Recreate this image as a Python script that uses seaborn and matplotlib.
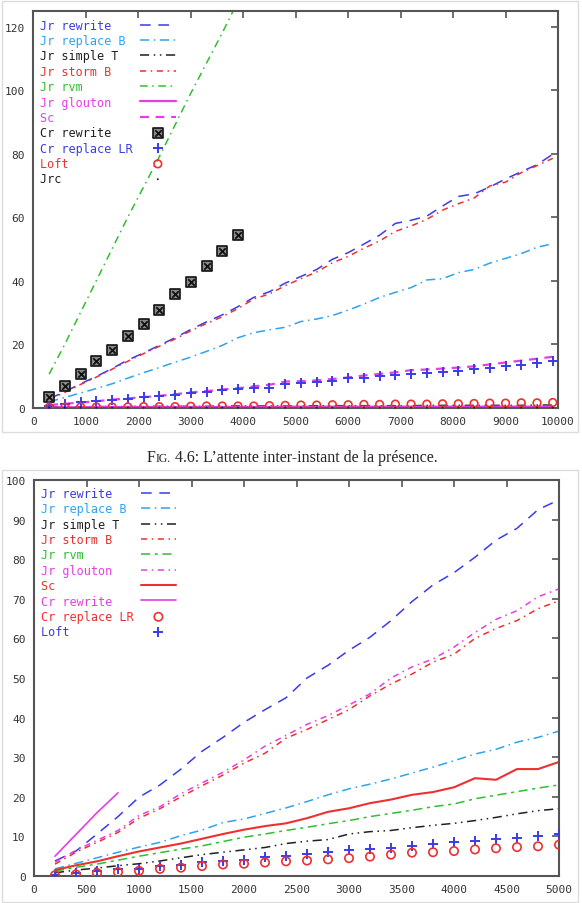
import matplotlib
matplotlib.use("Agg")
import matplotlib.pyplot as plt
import seaborn as sns
from matplotlib.patches import Rectangle
from matplotlib.offsetbox import TextArea, HPacker, AnchoredOffsetbox
from matplotlib.legend_handler import HandlerTuple

sns.set_style("white")
plt.rcParams["font.family"] = ["DejaVu Sans Mono"]

# ---- top chart (x up to 10000) ----
x_top = [300, 600, 900, 1200, 1500, 1800, 2100, 2400, 2700, 3000, 3300, 3600, 3900,
         4200, 4500, 4800, 5100, 5400, 5700, 6000, 6300, 6600, 6900, 7200, 7500, 7800,
         8100, 8400, 8700, 9000, 9300, 9600, 9900]
x_top_short = [300, 600, 900, 1200, 1500, 1800, 2100, 2400, 2700, 3000, 3300, 3600, 3900]

jr_rewrite_t = [2.8, 5.0, 7.5, 9.8, 12.3, 15.0, 17.2, 19.6, 22.0, 24.6, 27.0, 29.2, 31.8,
                34.7, 36.5, 39.2, 41.3, 43.5, 46.7, 48.8, 51.5, 54.3, 58.0, 59.0, 60.3, 63.5,
                66.5, 67.3, 69.5, 72.0, 74.3, 76.5, 79.8]
jr_replace_t = [1.8, 3.2, 4.6, 6.0, 7.5, 9.3, 11.0, 12.6, 14.3, 15.9, 17.7, 19.6, 22.0,
                23.6, 24.5, 25.3, 27.1, 27.9, 29.0, 30.7, 32.6, 34.7, 36.3, 37.8, 40.2, 40.6,
                42.5, 43.5, 45.5, 47.0, 48.5, 50.5, 51.6]
jr_simple_t = [0.2, 0.2, 0.3, 0.3, 0.3, 0.3, 0.4, 0.4, 0.4, 0.4, 0.4, 0.5, 0.5,
               0.5, 0.5, 0.5, 0.5, 0.6, 0.6, 0.6, 0.6, 0.6, 0.6, 0.6, 0.7, 0.7,
               0.7, 0.7, 0.7, 0.7, 0.7, 0.8, 0.8]
jr_storm_t = [2.5, 4.8, 7.3, 9.6, 12.1, 14.6, 17.0, 19.3, 21.6, 24.2, 26.5, 28.6, 31.2,
              34.2, 35.8, 38.4, 40.6, 42.7, 45.6, 47.6, 50.2, 52.5, 55.5, 57.2, 59.3, 62.2,
              64.2, 66.0, 69.8, 71.0, 74.0, 76.2, 78.5]
jr_rvm_t = [10.5, 20.0, 30.0, 40.0, 50.0, 60.0, 69.5, 79.0, 89.0, 99.0, 108.5, 118.0, 128.0]
jr_glouton_t = [0.1, 0.1, 0.1, 0.2, 0.2, 0.2, 0.2, 0.2, 0.2, 0.2, 0.2, 0.2, 0.2,
                0.2, 0.2, 0.3, 0.3, 0.3, 0.3, 0.3, 0.3, 0.3, 0.3, 0.3, 0.3, 0.3,
                0.3, 0.3, 0.3, 0.3, 0.3, 0.3, 0.3]
sc_t = [0.8, 1.2, 1.6, 2.0, 2.5, 2.9, 3.3, 3.7, 4.2, 4.8, 5.2, 5.7, 6.1,
        6.7, 7.2, 8.2, 8.3, 8.6, 9.0, 9.5, 10.1, 10.6, 11.1, 11.8, 12.0, 12.3,
        12.6, 13.0, 13.6, 14.2, 14.8, 15.4, 16.0]
cr_rewrite_t = [3.4, 6.9, 10.5, 14.6, 18.2, 22.4, 26.4, 30.7, 35.7, 39.7, 44.5, 49.3, 54.5]
cr_replace_t = [0.5, 1.0, 1.7, 2.1, 2.4, 2.7, 3.2, 3.6, 4.0, 4.5, 5.0, 5.6, 5.8,
                6.3, 6.3, 7.3, 7.6, 8.1, 8.5, 9.2, 9.4, 9.9, 10.4, 10.7, 10.9, 11.3,
                11.5, 12.3, 12.6, 13.0, 13.3, 14.1, 14.8]
loft_t = [0.1, 0.1, 0.2, 0.2, 0.2, 0.2, 0.3, 0.3, 0.3, 0.4, 0.5, 0.5, 0.5,
          0.5, 0.6, 0.7, 0.8, 0.8, 0.9, 0.9, 1.0, 1.0, 1.1, 1.1, 1.1, 1.2,
          1.2, 1.3, 1.4, 1.4, 1.5, 1.5, 1.6]
jrc_t = [0.0, 0.0, 0.0, 0.0, 0.0, 0.0, 0.0, 0.0, 0.0, 0.0, 0.0, 0.0, 0.0,
         0.0, 0.0, 0.0, 0.0, 0.0, 0.0, 0.0, 0.0, 0.0, 0.0, 0.0, 0.0, 0.0,
         0.0, 0.0, 0.0, 0.0, 0.0, 0.0, 0.0]

# ---- bottom chart (x up to 5000) ----
x_bot = [200, 400, 600, 800, 1000, 1200, 1400, 1600, 1800, 2000, 2200, 2400, 2600,
         2800, 3000, 3200, 3400, 3600, 3800, 4000, 4200, 4400, 4600, 4800, 5000]
x_bot_short = [200, 400, 600, 800]

jr_rewrite_b = [3.8, 6.3, 10.6, 15.0, 19.9, 23.0, 27.0, 31.5, 35.0, 38.8, 42.0, 45.0, 50.0,
                53.2, 57.0, 60.3, 64.5, 69.3, 73.5, 76.6, 80.5, 84.8, 87.8, 92.5, 95.0]
jr_replace_b = [1.8, 3.2, 4.6, 6.0, 7.3, 8.5, 10.2, 11.6, 13.5, 14.4, 15.8, 17.2, 18.8,
                20.5, 22.0, 23.2, 24.5, 26.0, 27.5, 29.1, 30.8, 32.0, 33.8, 35.0, 36.6]
jr_simple_b = [0.8, 1.5, 2.0, 2.6, 3.1, 3.8, 4.6, 5.4, 6.0, 6.6, 7.2, 8.2, 8.8,
               9.2, 10.6, 11.2, 11.5, 12.2, 12.8, 13.3, 14.0, 14.8, 15.7, 16.5, 17.0]
jr_storm_b = [3.0, 6.0, 8.5, 11.0, 14.6, 17.0, 20.0, 22.8, 25.5, 28.5, 31.0, 34.8, 37.0,
              39.5, 42.0, 45.5, 48.5, 51.0, 54.0, 56.0, 60.0, 62.5, 64.5, 67.5, 69.5]
jr_rvm_b = [1.2, 2.2, 3.0, 4.0, 5.0, 5.9, 6.8, 7.6, 8.7, 9.8, 10.6, 11.5, 12.3,
            13.2, 14.0, 15.0, 15.8, 16.6, 17.5, 18.2, 19.5, 20.4, 21.3, 22.2, 23.0]
jr_glouton_b = [3.5, 6.5, 9.0, 11.5, 15.3, 17.5, 20.8, 23.5, 26.2, 29.3, 32.8, 35.5, 38.3,
                40.5, 43.2, 46.0, 50.0, 52.8, 54.8, 57.8, 61.5, 64.8, 67.0, 70.5, 72.5]
sc_b = [1.5, 2.7, 3.7, 5.0, 6.2, 7.2, 8.2, 9.4, 10.6, 11.7, 12.6, 13.3, 14.6,
        16.2, 17.1, 18.4, 19.3, 20.5, 21.2, 22.4, 24.7, 24.3, 27.0, 27.0, 28.8]
cr_rewrite_b = [5.0, 10.5, 16.0, 21.0]
cr_replace_b = [0.2, 0.4, 0.75, 1.0, 1.3, 1.8, 2.1, 2.5, 2.9, 3.1, 3.4, 3.7, 3.9,
                4.2, 4.5, 4.9, 5.4, 5.9, 6.0, 6.3, 6.7, 7.0, 7.3, 7.5, 7.9]
loft_b = [0.3, 0.8, 1.3, 1.7, 1.8, 2.4, 2.9, 3.5, 3.9, 4.1, 4.8, 5.0, 5.6,
          6.0, 6.5, 6.7, 7.1, 7.7, 8.0, 8.6, 8.8, 9.4, 9.6, 10.1, 10.6]

BLUE = "#3b3be8"
LBLUE = "#2ea3ef"
BLACK = "#202020"
RED = "#ee3030"
GREEN = "#2fbf2f"
MAGENTA = "#e53ee5"

W, H = 582, 904
fig = plt.figure(figsize=(W / 100, H / 100), dpi=100)


def rect(l, r, t, b):
    return [l / W, 1 - b / H, (r - l) / W, (b - t) / H]


def line(ax, x, y, label, color, ls, lw=1.1):
    sns.lineplot(x=x, y=y, ax=ax, color=color, linestyle=ls, linewidth=lw,
                 label=label, legend=False)


def style_axes(ax, xlim, ylim, xticks, yticks):
    ax.set_xlim(*xlim)
    ax.set_ylim(*ylim)
    ax.set_xticks(xticks)
    ax.set_yticks(yticks)
    ax.tick_params(direction="in", length=5, width=1.2, color="#555555",
                   top=True, right=True, labelsize=8, labelcolor="#333333", pad=6)
    for s in ax.spines.values():
        s.set_color("#555555")
        s.set_linewidth(1.5)
    ax.set_xlabel("")
    ax.set_ylabel("")


def make_legend(ax, colors, anchor, extra=None):
    handles, labels = ax.get_legend_handles_labels()
    if extra:
        for lab, h in extra.items():
            handles[labels.index(lab)] = h
    n = max(len(l) for l in labels)
    labels = [l.ljust(n) for l in labels]
    leg = ax.legend(handles, labels, loc="upper left", bbox_to_anchor=anchor,
                    frameon=False, markerfirst=False, handlelength=3.0,
                    handletextpad=0.6, labelspacing=0.2, borderpad=0,
                    borderaxespad=0, prop={"family": "DejaVu Sans Mono", "size": 8.5},
                    handler_map={tuple: HandlerTuple(ndivide=1, pad=0)})
    for t, c in zip(leg.get_texts(), colors):
        t.set_color(c)


# ---------------- top ----------------
ax1 = fig.add_axes(rect(33.4, 558, 11.7, 408.6))
line(ax1, x_top, jr_rewrite_t, "Jr rewrite", BLUE, (0, (7, 5)))
line(ax1, x_top, jr_replace_t, "Jr replace B", LBLUE, (0, (6, 3, 1, 3)))
line(ax1, x_top, jr_simple_t, "Jr simple T", BLACK, (0, (6, 3, 1, 3, 1, 3)))
line(ax1, x_top, jr_storm_t, "Jr storm B", RED, (0, (4, 3, 1, 3)))
line(ax1, x_top_short, jr_rvm_t, "Jr rvm", GREEN, (0, (5, 3, 1, 3)))
line(ax1, x_top, jr_glouton_t, "Jr glouton", MAGENTA, "-", 1.6)
line(ax1, x_top, sc_t, "Sc", MAGENTA, (0, (4, 3)), 1.6)
sns.scatterplot(x=x_top_short, y=cr_rewrite_t, ax=ax1, marker="s", s=42,
                color="#8a8a8a", edgecolor="#111111", linewidth=1.2,
                label="Cr rewrite", legend=False, zorder=4)
sns.scatterplot(x=x_top_short, y=cr_rewrite_t, ax=ax1, marker="x", s=22,
                color="#111111", linewidth=1.3, legend=False, zorder=4)
sq, xs = ax1.collections[-2], ax1.collections[-1]
sns.scatterplot(x=x_top, y=cr_replace_t, ax=ax1, marker="+", s=45, linewidth=1.4,
                color=BLUE, label="Cr replace LR", legend=False, zorder=4)
sns.scatterplot(x=x_top, y=loft_t, ax=ax1, marker="o", s=30, linewidth=1.2,
                color=RED, facecolor="none", edgecolor=RED, label="Loft",
                legend=False, zorder=5)
sns.scatterplot(x=x_top, y=jrc_t, ax=ax1, marker=".", s=8, color=BLACK,
                edgecolor="none", label="Jrc", legend=False, zorder=6, clip_on=False)
style_axes(ax1, (0, 10000), (0, 125), range(0, 10001, 1000), range(0, 121, 20))
make_legend(ax1, [BLUE, LBLUE, BLACK, RED, GREEN, MAGENTA, MAGENTA, BLACK, BLUE, RED, BLACK],
            (7 / 524.6, 1 - 8 / 397), extra={"Cr rewrite": (sq, xs)})

# ---------------- bottom ----------------
ax2 = fig.add_axes(rect(34, 559, 481, 877))
line(ax2, x_bot, jr_rewrite_b, "Jr rewrite", BLUE, (0, (7, 5)))
line(ax2, x_bot, jr_replace_b, "Jr replace B", LBLUE, (0, (6, 3, 1, 3)))
line(ax2, x_bot, jr_simple_b, "Jr simple T", BLACK, (0, (6, 3, 1, 3, 1, 3)))
line(ax2, x_bot, jr_storm_b, "Jr storm B", RED, (0, (4, 3, 1, 3)))
line(ax2, x_bot, jr_rvm_b, "Jr rvm", GREEN, (0, (6, 3, 2, 3)))
line(ax2, x_bot, jr_glouton_b, "Jr glouton", MAGENTA, (0, (4, 3, 1, 3)))
line(ax2, x_bot, sc_b, "Sc", RED, "-", 1.5)
line(ax2, x_bot_short, cr_rewrite_b, "Cr rewrite", MAGENTA, "-", 1.2)
sns.scatterplot(x=x_bot, y=cr_replace_b, ax=ax2, marker="o", s=36, linewidth=1.2,
                color=RED, facecolor="none", edgecolor=RED, label="Cr replace LR",
                legend=False, zorder=5)
sns.scatterplot(x=x_bot, y=loft_b, ax=ax2, marker="+", s=45, linewidth=1.4,
                color=BLUE, label="Loft", legend=False, zorder=4)
style_axes(ax2, (0, 5000), (0, 100), range(0, 5001, 500), range(0, 101, 10))
make_legend(ax2, [BLUE, LBLUE, BLACK, RED, GREEN, MAGENTA, RED, MAGENTA, RED, BLUE],
            (7 / 525, 1 - 7 / 396))

# panel borders
for t, b in [(2, 433), (471, 903)]:
    fig.add_artist(Rectangle((2 / W, 1 - b / H), 576 / W, (b - t) / H,
                             transform=fig.transFigure, fill=False,
                             edgecolor="#dcdcdc", linewidth=1))

# caption with small caps "FIG."
serif = "Liberation Serif"
cap = HPacker(children=[
    TextArea("F", textprops=dict(size=11.5, family=serif)),
    TextArea("IG.", textprops=dict(size=8.5, family=serif)),
    TextArea(" 4.6: L\u2019attente inter-instant de la pr\u00e9sence.",
             textprops=dict(size=11.5, family=serif)),
], align="baseline", pad=0, sep=0)
fig.add_artist(AnchoredOffsetbox(loc="center", child=cap, frameon=False, pad=0,
                                 borderpad=0, bbox_to_anchor=(292 / W, 1 - 458 / H),
                                 bbox_transform=fig.transFigure))

fig.savefig("out.png", dpi=100)
